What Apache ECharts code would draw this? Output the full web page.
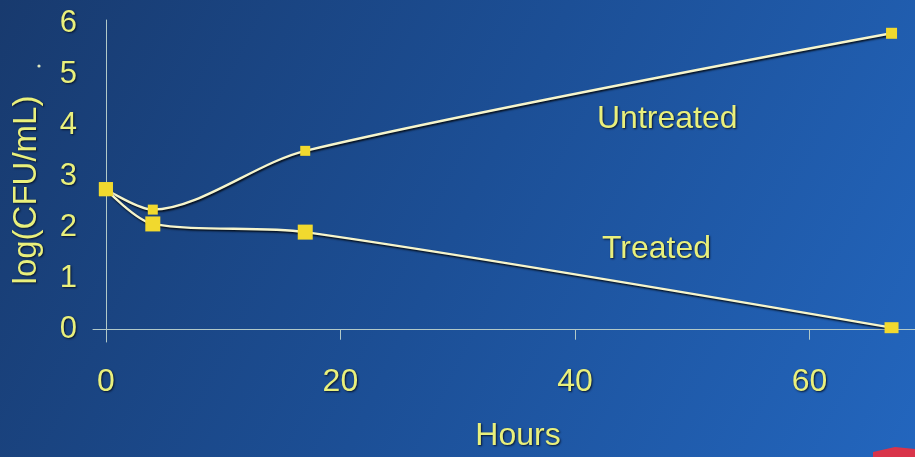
<!DOCTYPE html>
<html>
<head>
<meta charset="utf-8">
<script src="https://cdn.jsdelivr.net/npm/echarts@6/dist/echarts.min.js"></script>
<style>
html,body{margin:0;padding:0;width:915px;height:457px;overflow:hidden;}
#chart{width:915px;height:457px;}
</style>
</head>
<body>
<div id="chart"></div>
<script>
// Data
const hours = [0, 4, 17, 67];
const untreated = [2.75, 2.35, 3.5, 5.8];
const treated = [2.75, 2.07, 1.91, 0.04];
const untreatedSizes = [14, 10, 10, 11];
const treatedSizes = [14, 15, 15, [14, 11]];
const xTicks = [0, 20, 40, 60];
const yTicks = [0, 1, 2, 3, 4, 5, 6];
const seriesNames = ['Untreated', 'Treated'];
const xTitle = 'Hours';
const yTitle = 'log(CFU/mL)';

const textColor = '#e9f07c';
const shadow = {textShadowColor: 'rgba(5,15,35,0.9)', textShadowBlur: 2, textShadowOffsetX: 1, textShadowOffsetY: 1};
const font = '"Liberation Sans", Arial, sans-serif';

function pts(xs, ys, sizes) {
  return xs.map((x, i) => ({value: [x, ys[i]], symbolSize: sizes[i]}));
}

const chart = echarts.init(document.getElementById('chart'));
const lineStyle = {color: '#f6f5cc', width: 2.4, shadowColor: 'rgba(0,0,0,0.85)', shadowBlur: 2, shadowOffsetX: 1, shadowOffsetY: 1.5};
const itemStyle = {color: '#f1d92e', borderWidth: 0};

chart.setOption({
  backgroundColor: {
    type: 'linear', x: 0, y: 0, x2: 1, y2: 1,
    colorStops: [
      {offset: 0, color: '#183a6e'},
      {offset: 0.5, color: '#1c4f96'},
      {offset: 1, color: '#2366be'}
    ]
  },
  animation: false,
  grid: {left: 93, right: 0, top: 20, bottom: 115},
  xAxis: {
    type: 'value', min: -1.1, max: 69,
    axisLine: {show: true, onZero: true, lineStyle: {color: '#b2c9c8', width: 1}},
    axisTick: {show: true, customValues: [20, 40, 60], length: 10, inside: false, lineStyle: {color: '#b2c9c8'}},
    splitLine: {show: false},
    axisLabel: {customValues: xTicks, margin: 24, color: textColor, fontSize: 32, fontFamily: font, ...shadow}
  },
  yAxis: {
    type: 'value', min: -0.24, max: 6.06,
    axisLine: {show: true, onZero: true, lineStyle: {color: '#b2c9c8', width: 1}},
    axisTick: {show: false},
    splitLine: {show: false},
    axisLabel: {customValues: yTicks, margin: 16, color: textColor, fontSize: 31, fontFamily: font, ...shadow}
  },
  series: [
    {
      name: seriesNames[0], type: 'line', smooth: 0.3,
      symbol: 'rect', data: pts(hours, untreated, untreatedSizes),
      lineStyle: lineStyle, itemStyle: itemStyle, z: 3
    },
    {
      name: seriesNames[1], type: 'line', smooth: 0.3,
      symbol: 'rect', data: pts(hours, treated, treatedSizes),
      lineStyle: lineStyle, itemStyle: itemStyle, z: 4
    }
  ],
  graphic: [
    {type: 'text', x: 597, y: 119, style: {text: seriesNames[0], fill: textColor, font: '32px ' + font, verticalAlign: 'middle', ...shadow}},
    {type: 'text', x: 602, y: 249, style: {text: seriesNames[1], fill: textColor, font: '32px ' + font, verticalAlign: 'middle', ...shadow}},
    {type: 'text', x: 518, y: 436, style: {text: xTitle, fill: textColor, font: '32px ' + font, align: 'center', verticalAlign: 'middle', ...shadow}},
    {type: 'text', x: 27, y: 190, rotation: Math.PI / 2, style: {text: yTitle, fill: textColor, font: '33px ' + font, align: 'center', verticalAlign: 'middle', ...shadow}},
    {type: 'circle', shape: {cx: 39, cy: 66, r: 1.6}, style: {fill: '#dfe8c0'}},
    {type: 'polygon', shape: {points: [[873, 452], [895, 447], [915, 449], [915, 457], [873, 457]]}, style: {fill: '#d9344a'}}
  ]
});
</script>
</body>
</html>
